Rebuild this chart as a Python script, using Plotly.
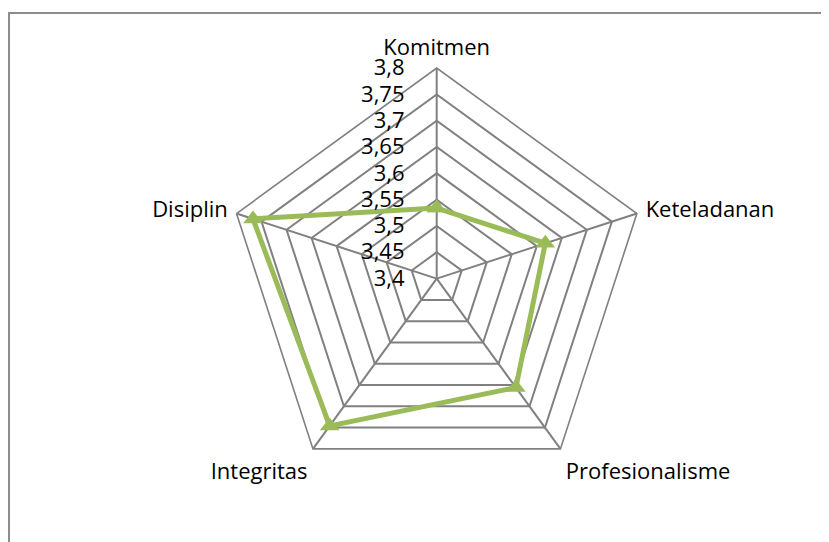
import plotly.graph_objects as go

categories = ["Komitmen", "Keteladanan", "Profesionalisme", "Integritas", "Disiplin"]
values = [3.534, 3.617, 3.656, 3.746, 3.767]
radial_ticks = [3.4, 3.45, 3.5, 3.55, 3.6, 3.65, 3.7, 3.75, 3.8]

# page body has an 8px margin: work in figure coordinates
OFF = 8
W, H = 829 - OFF, 542 - OFF
cx, cy, R = 436.7 - OFF, 278.6 - OFF, 210.5

fig = go.Figure()
fig.add_trace(go.Scatterpolar(
    r=values + values[:1],
    theta=categories + categories[:1],
    mode="lines+markers",
    line=dict(color="#9BBB59", width=5),
    marker=dict(symbol="triangle-up", size=17, color="#9BBB59"),
    showlegend=False,
))

font = dict(family="Open Sans, Liberation Sans, sans-serif", size=22, color="#000000")
grid = "#808080"

fig.update_layout(
    width=W, height=H,
    margin=dict(l=0, r=0, t=0, b=0),
    paper_bgcolor="white",
    separators=", ",
    font=font,
    polar=dict(
        domain=dict(x=[(cx - R) / W, (cx + R) / W], y=[1 - (cy + R) / H, 1 - (cy - R) / H]),
        gridshape="linear",
        bgcolor="white",
        radialaxis=dict(
            range=[3.4, 3.8], tickvals=radial_ticks, angle=90, tickangle=90,
            side="counterclockwise", showline=False, ticks="outside", ticklen=24,
            tickcolor="rgba(0,0,0,0)",
            gridcolor=grid, gridwidth=1.6, tickfont=font,
        ),
        angularaxis=dict(
            direction="clockwise", rotation=90, ticks="outside", ticklen=4,
            tickcolor="rgba(0,0,0,0)",
            gridcolor=grid, gridwidth=1.6, showline=True, linecolor=grid, linewidth=1.6,
            tickfont=font,
        ),
    ),
    shapes=[dict(type="rect", xref="paper", yref="paper",
                 x0=(9 - OFF) / W, x1=1.05, y0=-0.05, y1=1 - (13 - OFF) / H,
                 line=dict(color="#8c8c8c", width=2), fillcolor="rgba(0,0,0,0)", layer="below")],
)

fig.write_html("out.html")
